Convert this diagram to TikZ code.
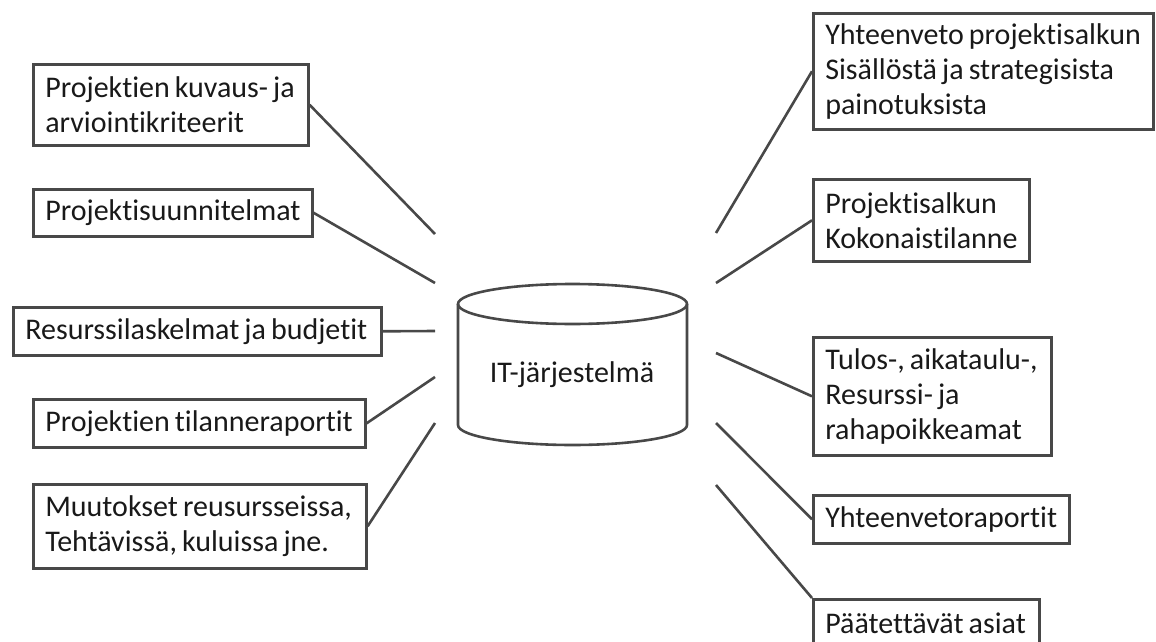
\documentclass[tikz,border=0pt]{standalone}
\usepackage{fontspec}
\setmainfont{Carlito}[RawFeature=-liga]
\usepackage{tikz}
\usetikzlibrary{positioning}

\definecolor{linegray}{RGB}{72,72,72}

\begin{document}
\begin{tikzpicture}[x=1pt,y=-1pt,line width=2.6pt,draw=linegray,
  box node/.style={draw=linegray,anchor=north west,align=left,inner xsep=12pt,inner ysep=0pt,
    font=\fontsize{30}{35}\selectfont,text=black!90,
    execute at begin node={\spaceskip=0.17em\relax}},
  db node/.style={font=\fontsize{30}{35}\selectfont,text=black!90}]

  \useasboundingbox (0,0) rectangle (1156,642);
  \clip (0,0) rectangle (1156,642);

  % left column
  \node[box node,text width=251pt,minimum height=81pt] (1) at (32,63) {Projektien kuvaus- ja\\arviointikriteerit};
  \node[box node,text width=255pt,minimum height=47pt] (2) at (32,188) {Projektisuunnitelmat};
  \node[box node,text width=344pt,minimum height=48pt] (3) at (12,306) {Resurssilaskelmat ja budjetit};
  \node[box node,text width=308pt,minimum height=48pt] (4) at (32,398) {Projektien tilanneraportit};
  \node[box node,text width=309pt,minimum height=84pt] (5) at (32,483) {Muutokset reusursseissa,\\Tehtävissä, kuluissa jne.};

  % right column
  \node[box node,text width=316pt,minimum height=116pt] (6) at (812,12) {Yhteenveto projektisalkun\\Sisällöstä ja strategisista\\painotuksista};
  \node[box node,text width=192pt,minimum height=82pt] (7) at (812,178) {Projektisalkun\\Kokonaistilanne};
  \node[box node,text width=214pt,minimum height=118pt] (8) at (812,336) {Tulos-, aikataulu-,\\Resurssi- ja\\rahapoikkeamat};
  \node[box node,text width=232pt,minimum height=48pt] (9) at (812,494) {Yhteenvetoraportit};
  \node[box node,text width=202pt,minimum height=47pt] (10) at (812,598) {Päätettävät asiat};

  % database
  \node[db node] (db) at (572,375) {IT-järjestelmä};
  \draw (572.5,304) ellipse [x radius=114.5,y radius=20];
  \draw (458,304) -- (458,425) arc [start angle=180,end angle=0,x radius=114.5,y radius=20] -- (687,304);

  % loose ends next to the database
  \coordinate (1c) at (435,234);
  \coordinate (2c) at (435,283);
  \coordinate (3c) at (435,331);
  \coordinate (4c) at (435,377);
  \coordinate (5c) at (435,423);
  \coordinate (6c) at (716,233);
  \coordinate (7c) at (716,283);
  \coordinate (8c) at (716,353);
  \coordinate (9c) at (716,423);
  \coordinate (10c) at (716,485);

  \path[draw=linegray]
    (1.east) edge (1c)
    (2.east) edge (2c)
    (3.east) edge (3c)
    (4.east) edge (4c)
    (5.east) edge (5c)
    (6.west) edge (6c)
    (7.west) edge (7c)
    (8.west) edge (8c)
    (9.west) edge (9c)
    (10.north west) edge (10c);
\end{tikzpicture}
\end{document}
